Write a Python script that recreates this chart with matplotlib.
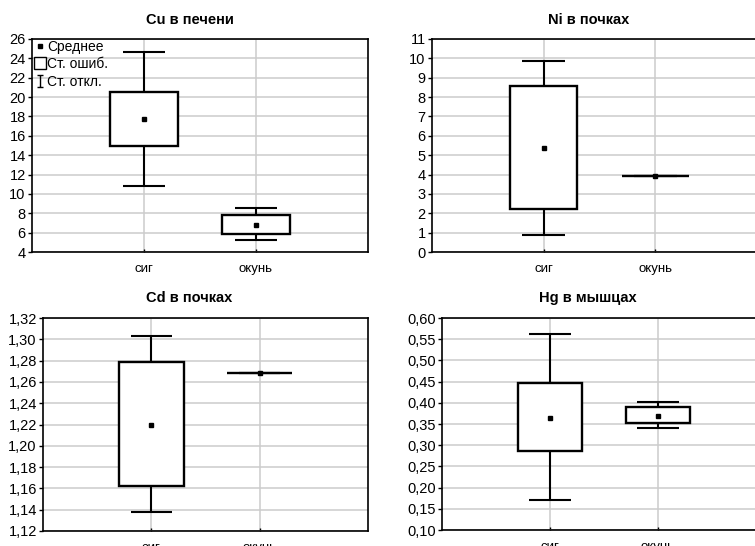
import numpy as np
import matplotlib
matplotlib.use("Agg")
import matplotlib.pyplot as plt
from matplotlib.lines import Line2D
from matplotlib.path import Path
from matplotlib.ticker import FuncFormatter, MultipleLocator

plt.rcParams["font.family"] = ["Liberation Sans", "DejaVu Sans"]

groups = ["сиг", "окунь"]

titles = ["Cu в печени", "Ni в почках", "Cd в почках", "Hg в мышцах"]

# mean, box (mean ± st. error), whiskers (mean ± st. deviation)
cu_mean = [17.7, 6.8]
cu_se_lo = [14.9, 5.9]
cu_se_hi = [20.5, 7.8]
cu_sd_lo = [10.8, 5.2]
cu_sd_hi = [24.7, 8.5]

ni_mean = [5.35, 3.9]
ni_se_lo = [2.2, 3.9]
ni_se_hi = [8.55, 3.9]
ni_sd_lo = [0.9, 3.9]
ni_sd_hi = [9.85, 3.9]

cd_mean = [1.220, 1.268]
cd_se_lo = [1.162, 1.268]
cd_se_hi = [1.279, 1.268]
cd_sd_lo = [1.138, 1.268]
cd_sd_hi = [1.303, 1.268]

hg_mean = [0.365, 0.370]
hg_se_lo = [0.286, 0.353]
hg_se_hi = [0.446, 0.389]
hg_sd_lo = [0.170, 0.340]
hg_sd_hi = [0.562, 0.401]

panels = [
    (cu_mean, cu_se_lo, cu_se_hi, cu_sd_lo, cu_sd_hi),
    (ni_mean, ni_se_lo, ni_se_hi, ni_sd_lo, ni_sd_hi),
    (cd_mean, cd_se_lo, cd_se_hi, cd_sd_lo, cd_sd_hi),
    (hg_mean, hg_se_lo, hg_se_hi, hg_sd_lo, hg_sd_hi),
]
ylims = [(4, 26), (0, 11), (1.12, 1.32), (0.10, 0.60)]
ysteps = [2, 1, 0.02, 0.05]
ydec = [0, 0, 2, 2]

W, H = 755, 546
# axes boxes in pixels: left, top, right, bottom
boxes = [(32, 39, 368, 252), (432, 39, 767, 252),
         (43, 318, 368, 531), (442, 318, 766, 530)]
title_pos = [(190, 20), (589, 20), (189, 298), (588, 298)]

fig = plt.figure(figsize=(W / 100, H / 100), dpi=100)

ibeam = Path([(-0.5, 1), (0.5, 1), (0, 1), (0, -1), (-0.5, -1), (0.5, -1)],
             [Path.MOVETO, Path.LINETO, Path.MOVETO, Path.LINETO,
              Path.MOVETO, Path.LINETO])

for k, (mean, se_lo, se_hi, sd_lo, sd_hi) in enumerate(panels):
    l, t, r, b = boxes[k]
    ax = fig.add_axes([l / W, 1 - b / H, (r - l) / W, (b - t) / H])
    x = np.arange(1, len(groups) + 1)

    ax.vlines(x, sd_lo, sd_hi, color="black", lw=1.5, zorder=2)
    ax.hlines(sd_lo, x - 0.19, x + 0.19, color="black", lw=1.5, zorder=2)
    ax.hlines(sd_hi, x - 0.19, x + 0.19, color="black", lw=1.5, zorder=2)
    heights = np.array(se_hi) - np.array(se_lo)
    ax.bar(x, heights, bottom=se_lo, width=0.6, facecolor="white",
           edgecolor="black", linewidth=1.7, zorder=3)
    ax.plot(x, mean, "s", color="black", ms=3.5, zorder=4)

    ax.set_xlim(0, 3)
    ax.set_ylim(*ylims[k])
    ax.yaxis.set_major_locator(MultipleLocator(ysteps[k]))
    d = ydec[k]
    ax.yaxis.set_major_formatter(FuncFormatter(
        lambda v, p, d=d: f"{v:.{d}f}".replace(".", ",")))
    ax.set_xticks(x)
    ax.set_xticklabels(groups)
    ax.grid(True, color="#cccccc", lw=1.1, zorder=0)
    ax.set_axisbelow(True)
    ax.tick_params(axis="y", direction="out", length=3, width=1,
                   labelsize=10.5, pad=1.5)
    ax.tick_params(axis="x", direction="in", length=2, width=1,
                   labelsize=9.5, pad=8)
    for s in ax.spines.values():
        s.set_linewidth(1.2)

    tx, ty = title_pos[k]
    fig.text(tx / W, 1 - ty / H, titles[k], ha="center", va="center",
             fontsize=10.5, fontweight="bold")

    if k == 0:
        handles = [
            Line2D([], [], ls="", marker="s", ms=3.5, color="black"),
            Line2D([], [], ls="", marker="s", ms=8, mfc="white",
                   mec="black", mew=1.0),
            Line2D([], [], ls="", marker=ibeam, ms=8, color="black",
                   mew=1.0),
        ]
        ax.legend(handles, ["Среднее", "Ст. ошиб.", "Ст. откл."],
                  loc="upper left", bbox_to_anchor=(0.0, 1.01),
                  frameon=False, fontsize=10, handlelength=0.7,
                  handletextpad=0.2, labelspacing=0.25, borderpad=0.2,
                  borderaxespad=0)

fig.savefig("out.png", dpi=100)
